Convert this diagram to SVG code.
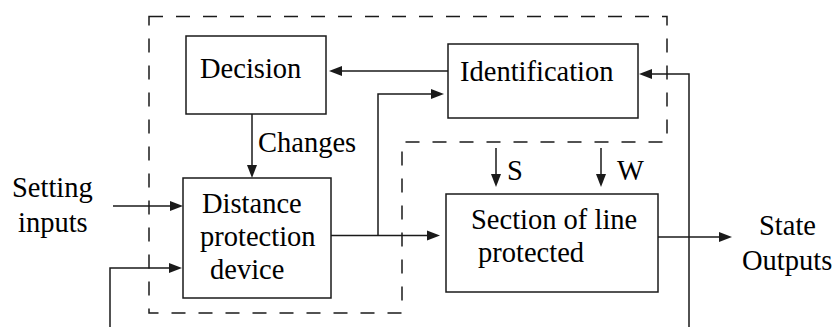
<svg xmlns="http://www.w3.org/2000/svg" width="837" height="327" viewBox="0 0 837 327">
  <style>
    .box { fill: #ffffff; stroke: #1a1a1a; stroke-width: 1.5; }
    .wire { fill: none; stroke: #1a1a1a; stroke-width: 1.5; }
    .head { fill: #1a1a1a; stroke: none; }
    .frame { fill: none; stroke: #1a1a1a; stroke-width: 1.5; stroke-dasharray: 14 13; }
  </style>

  <rect width="837" height="327" fill="#ffffff"/>

  <!-- dashed boundary of the protection system -->
  <path class="frame" d="M149,16.5 H667 V142 H402 V313 H149 Z"/>

  <g id="connectors">
    <line class="wire" x1="448" y1="71" x2="340" y2="71"/>
    <polygon class="head" points="329,71 342,66 342,76"/>
    <line class="wire" x1="252" y1="114" x2="252" y2="167"/>
    <polygon class="head" points="252,178 247,165 257,165"/>
    <line class="wire" x1="113" y1="206" x2="172" y2="206"/>
    <polygon class="head" points="183,206 170,201 170,211"/>
    <polyline class="wire" points="110,327 110,268 171,268"/>
    <polygon class="head" points="182,268 169,263 169,273"/>
    <line class="wire" x1="331" y1="235.5" x2="429" y2="235.5"/>
    <polygon class="head" points="440,235.5 427,230.5 427,240.5"/>
    <polyline class="wire" points="378,235.5 378,94 433,94"/>
    <polygon class="head" points="444,94 431,89 431,99"/>
    <line class="wire" x1="496" y1="148" x2="496" y2="176"/>
    <polygon class="head" points="496,187 491,174 501,174"/>
    <line class="wire" x1="601" y1="148" x2="601" y2="176"/>
    <polygon class="head" points="601,187 596,174 606,174"/>
    <line class="wire" x1="658" y1="237" x2="721" y2="237"/>
    <polygon class="head" points="732,237 719,232 719,242"/>
    <polyline class="wire" points="689,327 689,74 650,74"/>
    <polygon class="head" points="639,74 652,69 652,79"/>
    <text x="258" y="152" font-family="Liberation Serif" font-size="28.5">Changes</text>
    <text x="507" y="180" font-family="Liberation Serif" font-size="28.5">S</text>
    <text x="617" y="180" font-family="Liberation Serif" font-size="28.5">W</text>
  </g>

  <g id="decision">
    <rect class="box" x="186" y="36" width="140" height="78"/>
    <text x="200" y="78" font-family="Liberation Serif" font-size="28.5">Decision</text>
  </g>

  <g id="identification">
    <rect class="box" x="448" y="44" width="190" height="74"/>
    <text x="460" y="81" font-family="Liberation Serif" font-size="28.5">Identification</text>
  </g>

  <g id="distance-protection-device">
    <rect class="box" x="183" y="178" width="148" height="120"/>
    <text x="202" y="213" font-family="Liberation Serif" font-size="28.5">Distance</text>
    <text x="200" y="246" font-family="Liberation Serif" font-size="28.5">protection</text>
    <text x="210" y="279" font-family="Liberation Serif" font-size="28.5">device</text>
  </g>

  <g id="section-of-line">
    <rect class="box" x="446" y="194" width="212" height="98"/>
    <text x="471" y="229" font-family="Liberation Serif" font-size="28.5">Section of line</text>
    <text x="478" y="262" font-family="Liberation Serif" font-size="28.5">protected</text>
  </g>

  <g id="setting-inputs">
    <text x="12" y="197" font-family="Liberation Serif" font-size="28.5">Setting</text>
    <text x="18" y="232" font-family="Liberation Serif" font-size="28.5">inputs</text>
  </g>

  <g id="state-outputs">
    <text x="759" y="235" font-family="Liberation Serif" font-size="28.5">State</text>
    <text x="742" y="270" font-family="Liberation Serif" font-size="28.5">Outputs</text>
  </g>
</svg>
